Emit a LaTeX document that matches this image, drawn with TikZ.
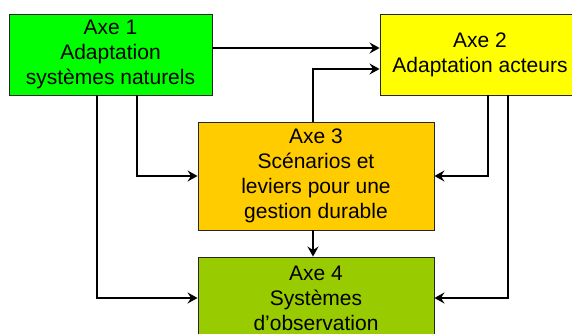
\documentclass[tikz,border=0pt]{standalone}
\usepackage{fontspec}
\setmainfont{Liberation Sans}
\usetikzlibrary{arrows.meta}
\definecolor{axeA}{RGB}{0,255,0}
\definecolor{axeB}{RGB}{255,255,0}
\definecolor{axeC}{RGB}{255,204,0}
\definecolor{axeD}{RGB}{153,204,0}
\tikzset{
  axebox/.style={draw=black!85, line width=0.9pt, inner sep=0pt, align=center,
    font=\fontsize{21}{25}\selectfont},
  link/.style={line width=2.7pt, -{Stealth[length=10pt,width=11pt,inset=3.5pt]}}
}
\begin{document}
\begin{tikzpicture}[x=1pt,y=1pt]
  \useasboundingbox (0,0) rectangle (572,334);
  \clip (0,0) rectangle (572,334);
  \fill[white] (0,0) rectangle (572,334);

  % the four axes
  \node[axebox, fill=axeA, minimum width=203pt, minimum height=81pt] (a1) at (110.5,279.5)
    {Axe 1\\Adaptation\\systèmes naturels};
  \node[axebox, fill=axeB, minimum width=200pt, minimum height=81pt] (a2) at (480,279.5)
    {Axe 2\\Adaptation acteurs};
  \node[axebox, fill=axeC, minimum width=236pt, minimum height=108pt] (a3) at (316,158)
    {Axe 3\\Scénarios et\\leviers pour une\\gestion durable};
  \node[axebox, fill=axeD, minimum width=236pt, minimum height=82pt] (a4) at (316,36)
    {Axe 4\\Systèmes\\d’observation};

  % links between the axes
  \draw[link] ([yshift=6.5pt]a1.east) -- ([yshift=6.5pt]a2.west);
  \draw[link] ([xshift=-3pt]a3.north) |- ([yshift=-14.5pt]a2.west);
  \draw[link] ([xshift=26.5pt]a1.south) |- (a3.west);
  \draw[link] ([xshift=-13.5pt]a1.south) |- (a4.west);
  \draw[link] ([xshift=8pt]a2.south) |- (a3.east);
  \draw[link] ([xshift=28pt]a2.south) |- (a4.east);
  \draw[link] ([xshift=-3pt]a3.south) -- ([xshift=-3pt]a4.north);
\end{tikzpicture}
\end{document}
